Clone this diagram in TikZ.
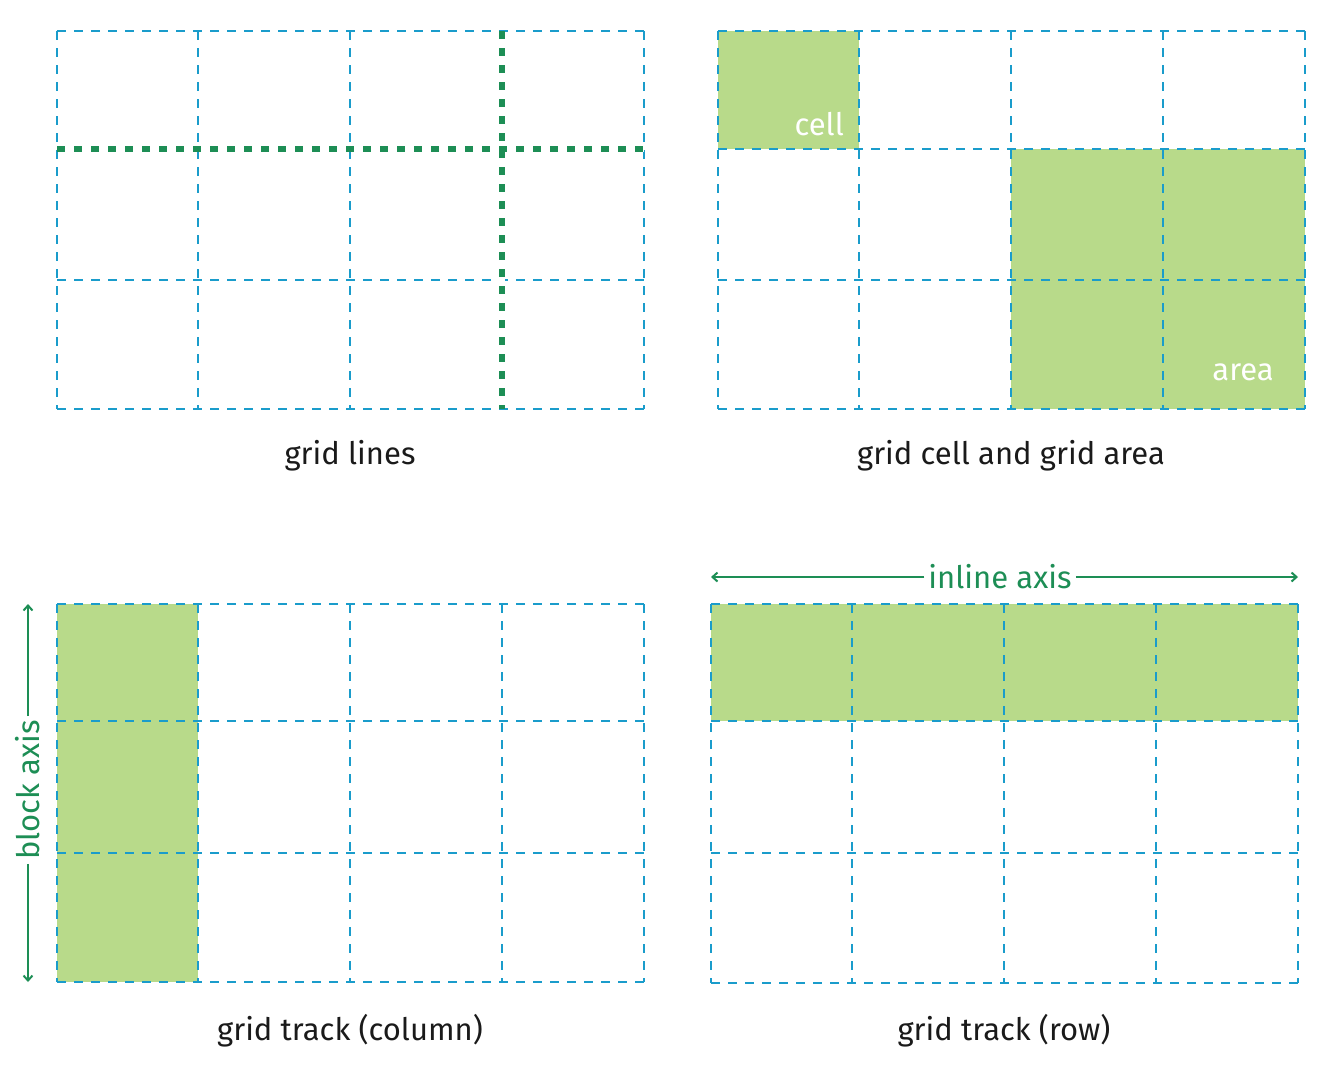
\documentclass[tikz,border=0pt]{standalone}
\usepackage{fontspec}
\setmainfont{Fira Sans}
\usetikzlibrary{arrows.meta}
\definecolor{gblue}{HTML}{1A9CCB}
\definecolor{gfill}{HTML}{B8DA8A}
\definecolor{gdark}{HTML}{1D8E55}
\definecolor{gtext}{HTML}{1A1A1A}
\tikzset{
  gridline/.style={draw=gblue, line width=2pt, dash pattern=on 9pt off 8pt},
  bigunder/.style={draw=white, line width=6pt},
  bigline/.style={draw=gdark, line width=6pt, dash pattern=on 8pt off 9pt},
  cellfill/.style={fill=gfill, draw=none},
  caption/.style={text=gtext, font=\fontsize{31}{37}\selectfont, inner sep=0pt},
  inlabel/.style={text=white, font=\fontsize{31}{37}\selectfont, inner sep=0pt},
  axislabel/.style={text=gdark, font=\fontsize{31}{37}\selectfont, inner sep=4pt, fill=white},
  axisarrow/.style={draw=gdark, line width=2pt, -{Straight Barb[length=5pt,width=9pt]}}
}
\begin{document}
\begin{tikzpicture}[x=1pt,y=-1pt]
\useasboundingbox (0,0) rectangle (1321,1072);
% fills
\fill[cellfill] (718,31) rectangle (859,149);
\fill[cellfill] (1011,149) rectangle (1305,409);
\fill[cellfill] (57,604) rectangle (198,982);
\fill[cellfill] (711,604) rectangle (1298,721);
% grid 1
\foreach \x in {57,198,350,502,644} \draw[gridline] (\x,31) -- (\x,409);
\foreach \y in {31,149,280,409} \draw[gridline] (57,\y) -- (644,\y);
% grid 2
\foreach \x in {718,859,1011,1163,1305} \draw[gridline] (\x,31) -- (\x,409);
\foreach \y in {31,149,280,409} \draw[gridline] (718,\y) -- (1305,\y);
% grid 3
\foreach \x in {57,198,350,502,644} \draw[gridline] (\x,604) -- (\x,982);
\foreach \y in {604,721,853,982} \draw[gridline] (57,\y) -- (644,\y);
% grid 4
\foreach \x in {711,852,1004,1156,1298} \draw[gridline] (\x,604) -- (\x,983);
\foreach \y in {604,721,853,983} \draw[gridline] (711,\y) -- (1298,\y);
% grid lines highlight
\draw[bigunder] (57,149) -- (644,149);
\draw[bigunder] (502,31) -- (502,409);
\draw[bigline] (57,149) -- (644,149);
\draw[bigline] (502,31) -- (502,409);
% inner labels
\node[inlabel, anchor=base east] (cell) at (844,135) {cell};
\node[inlabel, anchor=base east] (area) at (1274,380) {area};
% captions
\node[caption] (c1) at (350,456) {grid lines};
\node[caption] (c2) at (1011,456) {grid cell and grid area};
\node[caption] (c3) at (350,1031) {grid track (column)};
\node[caption] (c4) at (1004,1031) {grid track (row)};
% axes
\coordinate (btop) at (28,604);
\coordinate (bbot) at (28,982);
\coordinate (ileft) at (711,577);
\coordinate (iright) at (1298,577);
\node[axislabel, rotate=90] (blab) at (28,790) {block axis};
\node[axislabel] (ilab) at (1000,577) {inline axis};
\draw[axisarrow] (blab.east) -- (btop);
\draw[axisarrow] (blab.west) -- (bbot);
\draw[axisarrow] (ilab.west) -- (ileft);
\draw[axisarrow] (ilab.east) -- (iright);
\end{tikzpicture}
\end{document}
